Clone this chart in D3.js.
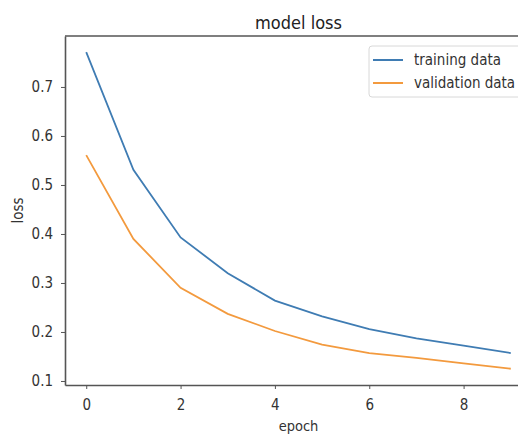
<!DOCTYPE html>
<html>
<head>
<meta charset="utf-8">
<script src="https://cdn.jsdelivr.net/npm/d3@7"></script>
<style>
  body { margin: 0; background: #fff; }
  svg { display: block; overflow: hidden; }
  text { font-family: "DejaVu Sans Condensed", "DejaVu Sans", sans-serif; font-stretch: condensed; }
  .axis path, .axis line { stroke: #555; }
  .axis text { fill: #333; font-size: 15px; font-family: "DejaVu Sans Condensed", "DejaVu Sans", sans-serif; }
</style>
</head>
<body>
<div id="chart"></div>
<script>
/* Values. */
const epochs = [0, 1, 2, 3, 4, 5, 6, 7, 8, 9];
const trainingLoss = [0.771, 0.531, 0.393, 0.320, 0.264, 0.232, 0.206, 0.187, 0.172, 0.157];
const validationLoss = [0.561, 0.390, 0.290, 0.237, 0.202, 0.174, 0.157, 0.147, 0.136, 0.125];
const xTicks = [0, 2, 4, 6, 8];
const yTicks = [0.1, 0.2, 0.3, 0.4, 0.5, 0.6, 0.7];

const series = [
  { name: 'training data', values: trainingLoss, color: '#3f7cb3' },
  { name: 'validation data', values: validationLoss, color: '#f39a3e' }
];

const W = 518, H = 436;
// plot area runs past the right edge, as in the cropped reference
const plot = { left: 65, top: 36, right: 532, bottom: 385 };

const svg = d3.select('#chart').append('svg')
  .attr('width', W)
  .attr('height', H);

const x = d3.scaleLinear()
  .domain([-0.45, 9.45])
  .range([plot.left, plot.right]);

const y = d3.scaleLinear()
  .domain([0.0918, 0.804])
  .range([plot.bottom, plot.top]);

// x axis
const gX = svg.append('g')
  .attr('class', 'axis')
  .attr('transform', `translate(0, ${plot.bottom})`)
  .call(d3.axisBottom(x).tickValues(xTicks).tickSize(4).tickSizeOuter(0).tickPadding(10));
gX.select('.domain').attr('stroke-width', 1.6);

// y axis
const gY = svg.append('g')
  .attr('class', 'axis')
  .attr('transform', `translate(${plot.left}, 0)`)
  .call(d3.axisLeft(y).tickValues(yTicks).tickFormat(d3.format('.1f')).tickSize(4).tickSizeOuter(0).tickPadding(8));
gY.select('.domain').attr('stroke-width', 1.6);

// top spine
svg.append('line')
  .attr('x1', plot.left).attr('x2', plot.right)
  .attr('y1', plot.top).attr('y2', plot.top)
  .attr('stroke', '#555').attr('stroke-width', 1.6);

// lines
const line = d3.line()
  .x((d, i) => x(epochs[i]))
  .y((d) => y(d));

svg.selectAll('.series')
  .data(series)
  .enter()
  .append('path')
  .attr('class', 'series')
  .attr('fill', 'none')
  .attr('stroke', (d) => d.color)
  .attr('stroke-width', 1.8)
  .attr('d', (d) => line(d.values));

// title and labels
svg.append('text')
  .attr('x', (plot.left + plot.right) / 2)
  .attr('y', 29)
  .attr('text-anchor', 'middle')
  .attr('fill', '#222')
  .style('font-size', '18px')
  .text('model loss');

svg.append('text')
  .attr('transform', `translate(23, ${(plot.top + plot.bottom) / 2}) rotate(-90)`)
  .attr('text-anchor', 'middle')
  .attr('fill', '#333')
  .style('font-size', '15px')
  .text('loss');

svg.append('text')
  .attr('x', (plot.left + plot.right) / 2)
  .attr('y', 431)
  .attr('text-anchor', 'middle')
  .attr('fill', '#333')
  .style('font-size', '14.5px')
  .text('epoch');

// legend
const legend = svg.append('g').attr('transform', 'translate(369, 46)');
legend.append('rect')
  .attr('width', 160)
  .attr('height', 51)
  .attr('rx', 3)
  .attr('fill', '#fff')
  .attr('stroke', '#d8d8d8');

const rows = legend.selectAll('.row')
  .data(series)
  .enter()
  .append('g')
  .attr('class', 'row')
  .attr('transform', (d, i) => `translate(0, ${14 + i * 23})`);
rows.append('line')
  .attr('x1', 4).attr('x2', 34)
  .attr('stroke', (d) => d.color)
  .attr('stroke-width', 2);
rows.append('text')
  .attr('x', 45)
  .attr('dy', '0.35em')
  .attr('fill', '#333')
  .style('font-size', '15px')
  .text((d) => d.name);
</script>
</body>
</html>
